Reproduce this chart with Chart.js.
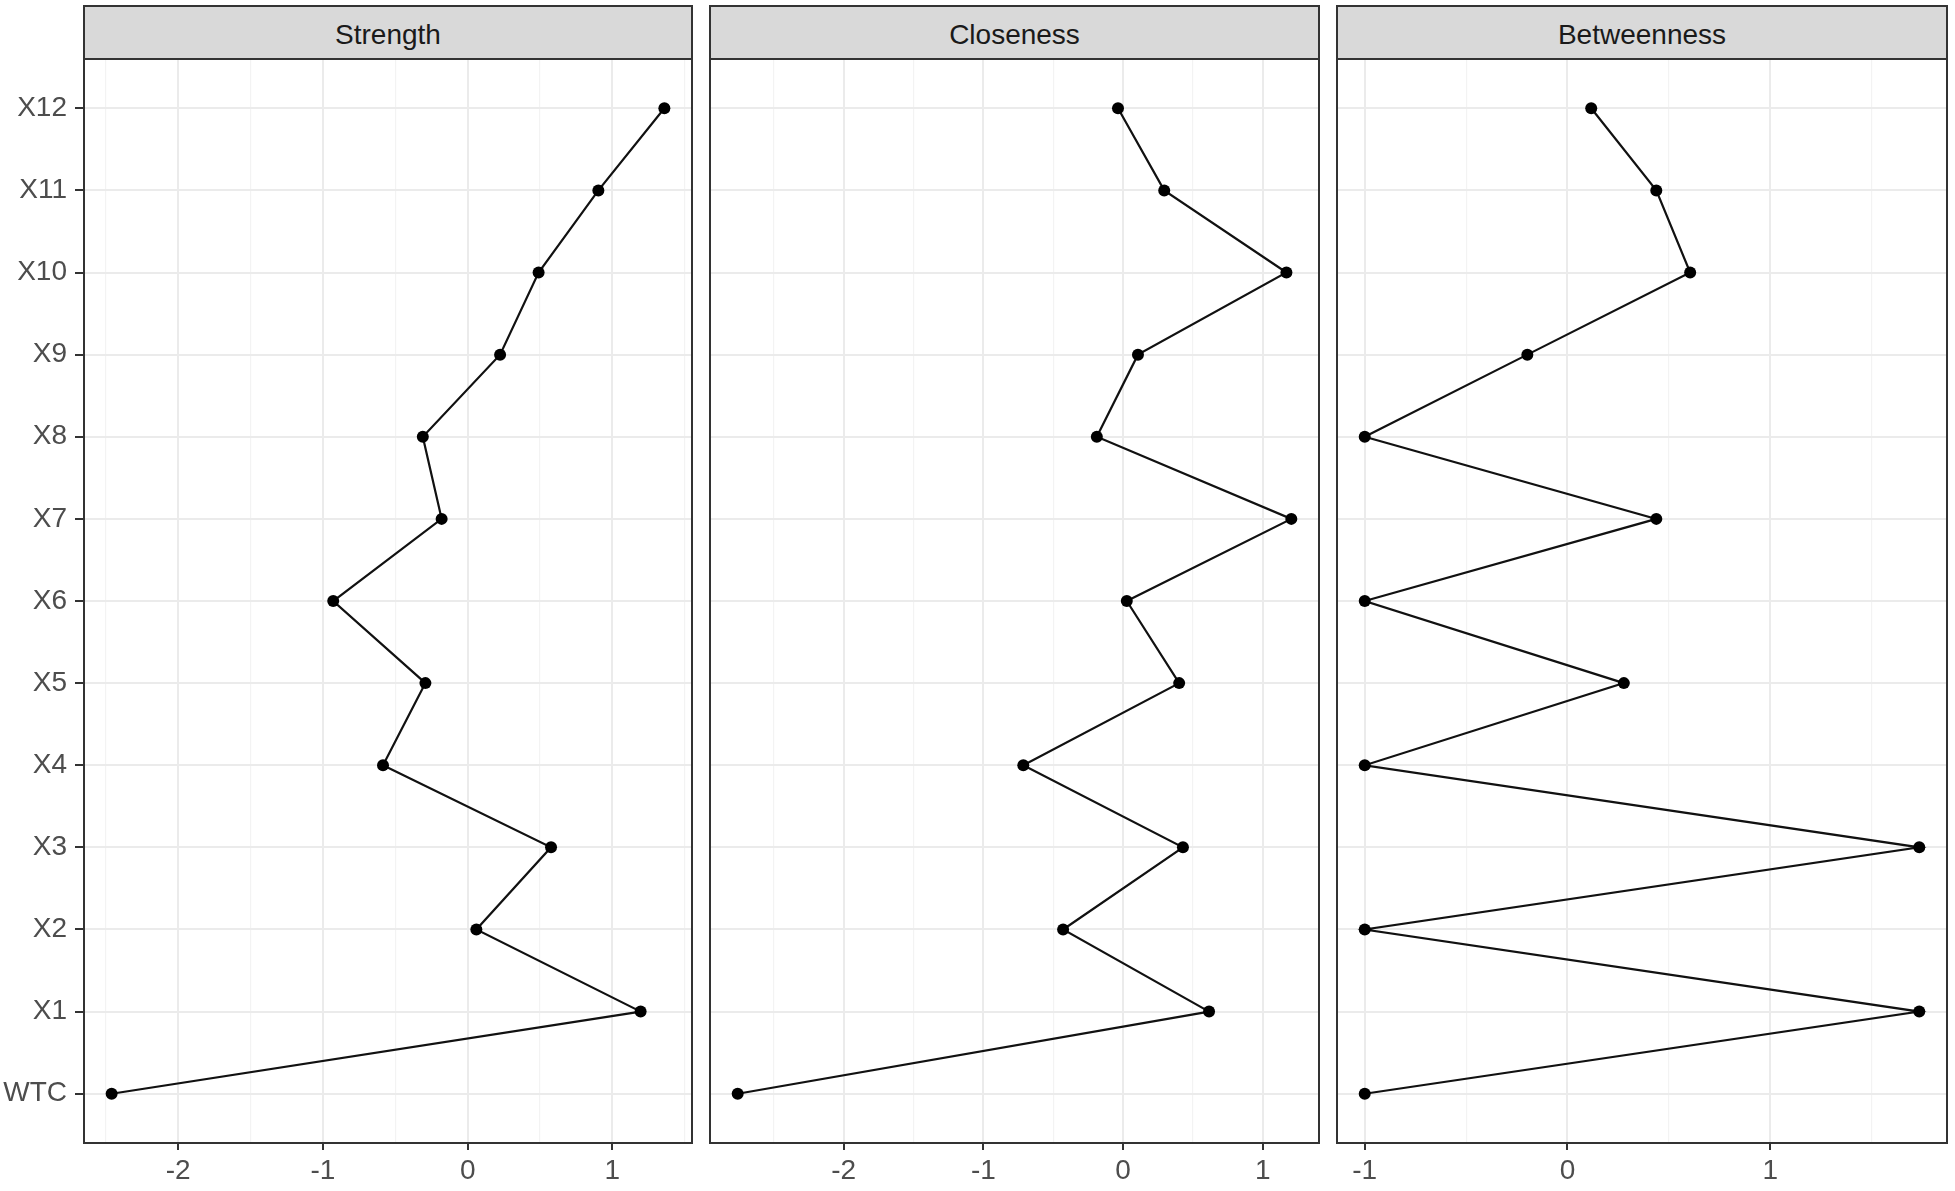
<!DOCTYPE html>
<html>
<head>
<meta charset="utf-8">
<script src="https://cdn.jsdelivr.net/npm/chart.js@4/dist/chart.umd.min.js"></script>
<style>
  html, body { margin: 0; padding: 0; background: #ffffff; }
  body { width: 1955px; height: 1191px; position: relative; overflow: hidden; }
  canvas { position: absolute; top: 0; }
  .strip {
    position: absolute; box-sizing: border-box; background: #d9d9d9;
    border: 2px solid #333333; display: flex; align-items: center; justify-content: center;
    padding-top: 5px;
    font-family: "Liberation Sans", Arial, sans-serif; font-size: 28px; color: #1a1a1a;
  }
</style>
</head>
<body>
<script>
// ---- data ----
const categories = ['WTC', 'X1', 'X2', 'X3', 'X4', 'X5', 'X6', 'X7', 'X8', 'X9', 'X10', 'X11', 'X12'];
const panelTitles = ['Strength', 'Closeness', 'Betweenness'];
const strength    = [-2.46, 1.195, 0.06, 0.576, -0.585, -0.292, -0.929, -0.18, -0.31, 0.224, 0.49, 0.903, 1.359];
const closeness   = [-2.759, 0.616, -0.429, 0.429, -0.714, 0.402, 0.027, 1.205, -0.1875, 0.107, 1.17, 0.295, -0.036];
const betweenness = [-1.0, 1.735, -1.0, 1.735, -1.0, 0.278, -1.0, 0.438, -1.0, -0.198, 0.605, 0.438, 0.117];
const seriesList = [strength, closeness, betweenness];

// ---- layout ----
const panels = [{ L: 84, R: 692 }, { L: 710, R: 1319 }, { L: 1337, R: 1947 }];
const TOP = 59, BOTTOM = 1143, H = 1191;
const FONT = '"Liberation Sans", Arial, sans-serif';

const framePlugin = {
  id: 'frame',
  afterDraw(chart) {
    const a = chart.chartArea, c = chart.ctx;
    c.save();
    c.strokeStyle = '#333333';
    c.lineWidth = 2;
    c.strokeRect(a.left, a.top, a.right - a.left, a.bottom - a.top);
    c.restore();
  }
};

const isMajor = v => Math.abs(v - Math.round(v)) < 1e-9;

panels.forEach((p, i) => {
  const vals = seriesList[i];
  const padL = i === 0 ? p.L : 10;
  const padR = 10;
  const w = padL + (p.R - p.L) + padR;

  const canvas = document.createElement('canvas');
  canvas.width = w; canvas.height = H;
  canvas.style.left = (p.L - padL) + 'px';
  canvas.style.width = w + 'px'; canvas.style.height = H + 'px';
  document.body.appendChild(canvas);

  const strip = document.createElement('div');
  strip.className = 'strip';
  strip.style.left = (p.L - 1) + 'px';
  strip.style.top = '5px';
  strip.style.width = (p.R - p.L + 2) + 'px';
  strip.style.height = (TOP + 1 - 5) + 'px';
  strip.textContent = panelTitles[i];
  document.body.appendChild(strip);

  const mn = Math.min(...vals), mx = Math.max(...vals);
  const ex = (mx - mn) * 0.05;

  new Chart(canvas, {
    type: 'scatter',
    data: {
      datasets: [{
        data: vals.map((v, k) => ({ x: v, y: k })),
        showLine: true,
        borderColor: '#111111',
        borderWidth: 2.2,
        backgroundColor: '#000000',
        pointRadius: 6,
        pointHoverRadius: 6,
        pointBorderWidth: 0,
        tension: 0
      }]
    },
    plugins: [framePlugin],
    options: {
      responsive: false,
      animation: false,
      devicePixelRatio: 1,
      layout: { padding: { left: 0, right: padR, top: TOP, bottom: 0 } },
      plugins: { legend: { display: false }, tooltip: { enabled: false }, title: { display: false } },
      scales: {
        x: {
          type: 'linear',
          min: mn - ex, max: mx + ex,
          afterBuildTicks(scale) {
            const t = [];
            for (let v = Math.ceil(scale.min * 2) / 2; v <= scale.max + 1e-9; v += 0.5) t.push({ value: Math.round(v * 2) / 2 });
            scale.ticks = t;
          },
          afterFit(scale) { scale.height = H - BOTTOM; },
          border: { display: false },
          grid: {
            color: ctx => isMajor(ctx.tick.value) ? '#ebebeb' : '#f3f3f3',
            lineWidth: ctx => isMajor(ctx.tick.value) ? 2 : 1.2,
            tickColor: ctx => isMajor(ctx.tick.value) ? '#333333' : 'rgba(0,0,0,0)',
            tickWidth: 2,
            tickLength: 7,
            drawTicks: true
          },
          ticks: {
            autoSkip: false,
            maxRotation: 0,
            padding: 4,
            color: '#4d4d4d',
            font: { family: FONT, size: 28 },
            callback: v => isMajor(v) ? String(Math.round(v)) : ''
          }
        },
        y: {
          type: 'linear',
          min: -0.6, max: categories.length - 1 + 0.6,
          afterBuildTicks(scale) { scale.ticks = categories.map((c, k) => ({ value: k })); },
          afterFit(scale) { scale.width = padL; },
          border: { display: false },
          grid: {
            color: '#ebebeb',
            lineWidth: 2,
            tickColor: '#333333',
            tickWidth: 2,
            tickLength: 9,
            drawTicks: i === 0
          },
          ticks: {
            display: i === 0,
            autoSkip: false,
            padding: 8,
            color: '#4d4d4d',
            font: { family: FONT, size: 28 },
            callback: v => categories[Math.round(v)]
          }
        }
      }
    }
  });
});
</script>
</body>
</html>
